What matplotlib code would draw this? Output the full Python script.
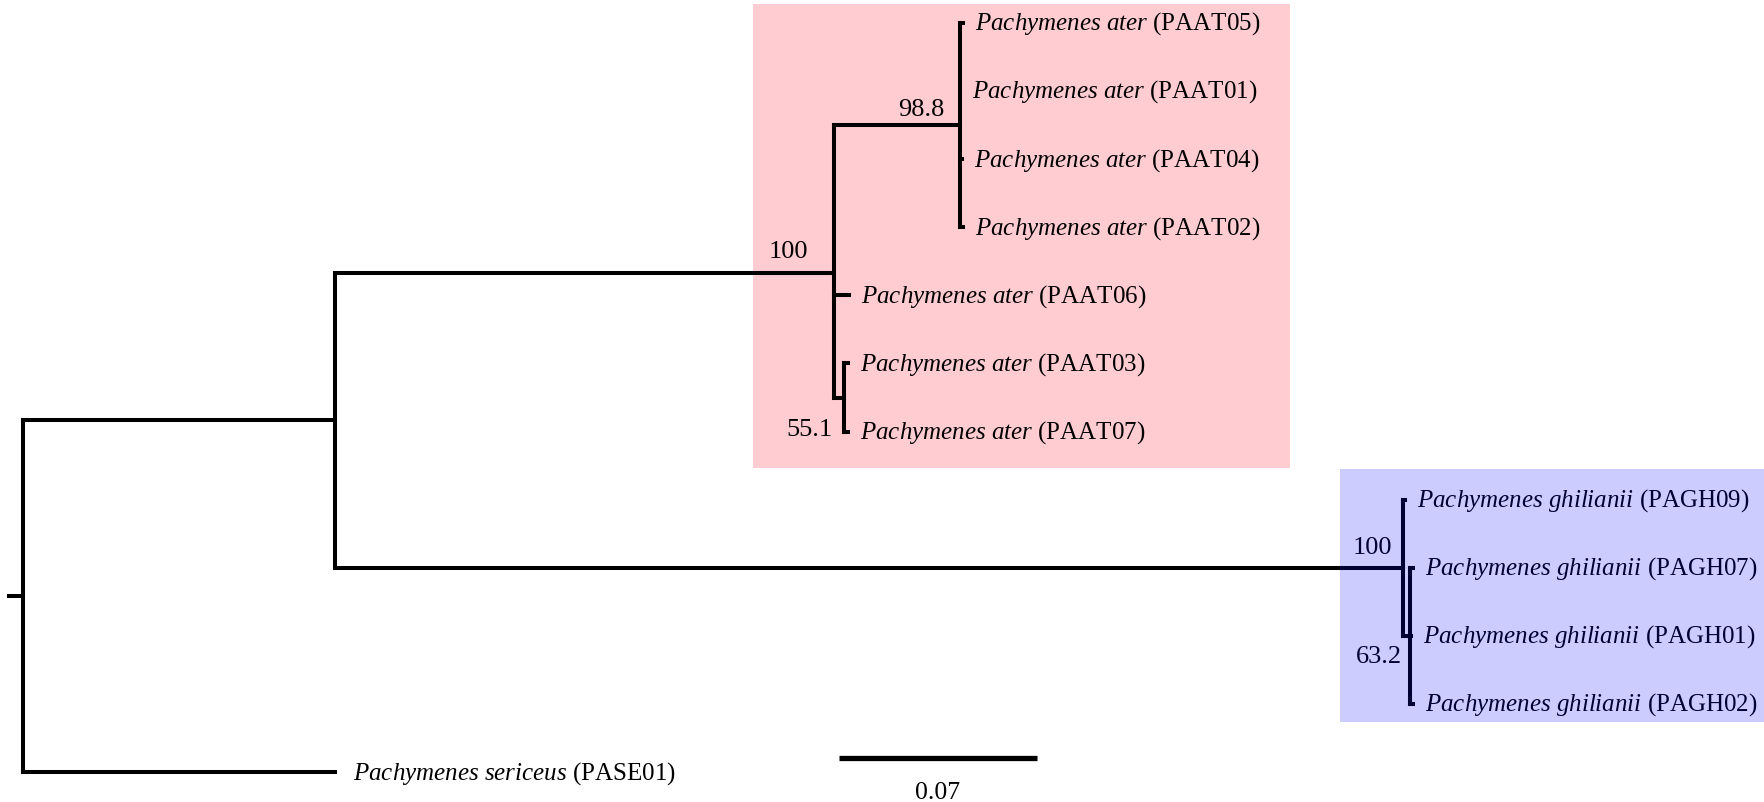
import matplotlib
matplotlib.use("Agg")
import matplotlib.pyplot as plt
from matplotlib.patches import Rectangle

plt.rcParams['font.family'] = ['Liberation Serif', 'DejaVu Serif']
plt.rcParams['mathtext.fontset'] = 'custom'
plt.rcParams['mathtext.rm'] = 'Liberation Serif'
plt.rcParams['mathtext.it'] = 'Liberation Serif:italic'

## 말단(tip) 정보 - 위에서 아래 순서
tip_species = ['Pachymenes ater'] * 7 + ['Pachymenes ghilianii'] * 4 + ['Pachymenes sericeus']
tip_ids = ['PAAT05', 'PAAT01', 'PAAT04', 'PAAT02', 'PAAT06', 'PAAT03', 'PAAT07',
           'PAGH09', 'PAGH07', 'PAGH01', 'PAGH02', 'PASE01']
tip_parent = ['n988', 'n988', 'n988', 'n988', 'ater', 'n551', 'n551',
              'ghil', 'n632', 'n632', 'n632', 'root']
tip_bl = [0.0011, 0.0001, 0.0007, 0.0011, 0.0053, 0.0014, 0.0014,
          0.0007, 0.0010, 0.0003, 0.0010, 0.1103]

## 내부 노드
node_names = ['root', 'A', 'ater', 'n988', 'n551', 'ghil', 'n632']
node_parent = [None, 'root', 'A', 'ater', 'ater', 'A', 'ghil']
node_bl = [0.005, 0.1103, 0.1764, 0.0445, 0.0035, 0.3776, 0.0025]
node_support = ['', '', '100', '98.8', '55.1', '100', '63.2']

scale_len = 0.07

## x 좌표 (뿌리부터 누적 가지 길이)
node_x = {}
for name, par, bl in zip(node_names, node_parent, node_bl):
    node_x[name] = 0.0 if par is None else node_x[par] + bl
tip_x = [node_x[p] + bl for p, bl in zip(tip_parent, tip_bl)]
tip_y = list(range(len(tip_ids)))

## y 좌표: 자식들 y의 평균
children = {n: [] for n in node_names}
for i, p in enumerate(tip_parent):
    children[p].append(('tip', i))
for n, p in zip(node_names, node_parent):
    if p is not None:
        children[p].append(('node', n))

node_y = {}
def get_y(kind, key):
    if kind == 'tip':
        return tip_y[key]
    if key not in node_y:
        ys = [get_y(k, c) for k, c in children[key]]
        node_y[key] = sum(ys) / len(ys)
    return node_y[key]
for n in node_names:
    get_y('node', n)

fig = plt.figure(figsize=(17.64, 8.03), dpi=100)
ax = fig.add_axes([0, 0, 1, 1])
ax.set_xlim(-0.00813, 0.6155)
ax.set_ylim(11.439, -0.352)
ax.axis('off')

lw = 2.9
kw = dict(color='black', lw=lw, solid_capstyle='projecting', zorder=3)
fs = 18

# 가지 그리기
for n, p, bl in zip(node_names, node_parent, node_bl):
    x0 = node_x[p] if p is not None else -bl
    ax.plot([x0, node_x[n]], [node_y[n], node_y[n]], **kw)
    ys = [get_y(k, c) for k, c in children[n]]
    ax.plot([node_x[n], node_x[n]], [min(ys), max(ys)], **kw)
for i in range(len(tip_ids)):
    p = tip_parent[i]
    ax.plot([node_x[p], tip_x[i]], [tip_y[i], tip_y[i]], **kw)

# 말단 라벨
for i in range(len(tip_ids)):
    sp = tip_species[i].replace(' ', r'\ ')
    gap = 18 if tip_parent[i] == 'root' else 12
    ax.annotate(r'$\it{' + sp + '}$ (' + tip_ids[i] + ')', (tip_x[i], tip_y[i]),
                xytext=(gap, 0), textcoords='offset pixels',
                ha='left', va='center', fontsize=fs, zorder=3)

# 지지도 라벨
sup_dx = [0, 0, -26, -15, -11, -11, -8]
sup_dy = [0, 0, 22, 16, -31, 21, -20]
for n, s, dx, dy in zip(node_names, node_support, sup_dx, sup_dy):
    if s == '':
        continue
    ax.annotate(s, (node_x[n], node_y[n]), xytext=(dx, dy), textcoords='offset pixels',
                ha='right', va='center', fontsize=fs + 1, zorder=3)

# 스케일 바
sb_x, sb_y = 0.2885, 10.79
ax.plot([sb_x, sb_x + scale_len], [sb_y, sb_y], color='black', lw=3.8, solid_capstyle='butt')
ax.annotate(f'{scale_len:.2f}', (sb_x + scale_len / 2, sb_y), xytext=(0, -34),
            textcoords='offset pixels', ha='center', va='center', fontsize=fs + 0.5)

# 클레이드 박스: ater는 가지 아래, ghilianii는 반투명 덮개
ax.add_patch(Rectangle((node_x['ater'] - 0.0286, -0.279), 0.4479 - (node_x['ater'] - 0.0286),
                       6.81, facecolor='#ffccd2', edgecolor='none', zorder=1))
ax.add_patch(Rectangle((node_x['ghil'] - 0.0223, 6.55), 0.6155 - (node_x['ghil'] - 0.0223),
                       3.71, facecolor=(0, 0, 1), alpha=0.2, edgecolor='none', zorder=5))

fig.savefig('out.png', dpi=100)
